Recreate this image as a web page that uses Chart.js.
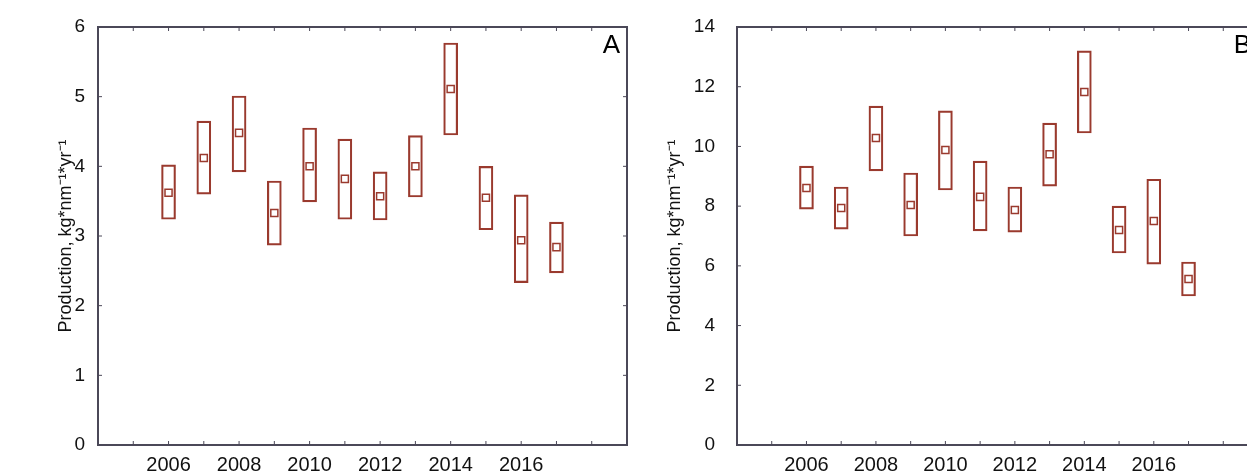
<!DOCTYPE html>
<html>
<head>
<meta charset="utf-8">
<script src="https://cdn.jsdelivr.net/npm/chart.js@4.4.0/dist/chart.umd.min.js"></script>
<style>
  html, body { margin: 0; padding: 0; background: #fff; overflow: hidden; }
  body { width: 1247px; height: 476px; position: relative; }
  .panel { position: absolute; top: 0; }
</style>
</head>
<body>
<div class="panel" style="left:0px"><canvas id="chart-a" width="640" height="476"></canvas></div>
<div class="panel" style="left:620px"><canvas id="chart-b" width="655" height="476"></canvas></div>
<script>
const years = [2006, 2007, 2008, 2009, 2010, 2011, 2012, 2013, 2014, 2015, 2016, 2017];
const labelYears = [2006, 2008, 2010, 2012, 2014, 2016];

// panel A
const lowA = [3.24, 3.60, 3.92, 2.87, 3.49, 3.24, 3.23, 3.56, 4.45, 3.09, 2.33, 2.47];
const highA = [4.02, 4.65, 5.01, 3.79, 4.55, 4.39, 3.92, 4.44, 5.77, 4.00, 3.59, 3.20];
const meanA = [3.62, 4.12, 4.48, 3.33, 4.00, 3.82, 3.57, 4.00, 5.11, 3.55, 2.94, 2.84];

// panel B
const lowB = [7.90, 7.23, 9.18, 7.00, 8.54, 7.17, 7.13, 8.67, 10.45, 6.43, 6.06, 4.99];
const highB = [9.34, 8.64, 11.35, 9.11, 11.19, 9.51, 8.64, 10.78, 13.20, 8.00, 8.90, 6.13];
const meanB = [8.61, 7.94, 10.28, 8.04, 9.88, 8.31, 7.87, 9.74, 11.82, 7.20, 7.50, 5.56];

const boxColor = "#9a3a2e";
const axisColor = "#4b4858";
const yTitle = "Production, kg*nm\u207B\u00B9*yr\u207B\u00B9";

// frame, inward ticks and the panel letter
const framePlugin = {
  id: "frame",
  afterDraw(chart, args, opts) {
    const ctx = chart.ctx;
    const a = chart.chartArea;
    const xs = chart.scales.x;
    const ys = chart.scales.y;
    ctx.save();
    ctx.strokeStyle = axisColor;
    ctx.lineWidth = 2;
    ctx.strokeRect(a.left, a.top, a.right - a.left, a.bottom - a.top);
    ctx.lineWidth = 1;
    ctx.beginPath();
    for (const t of xs.ticks) {
      const px = xs.getPixelForValue(t.value);
      ctx.moveTo(px, a.bottom);
      ctx.lineTo(px, a.bottom - 4);
      ctx.moveTo(px, a.top);
      ctx.lineTo(px, a.top + 4);
    }
    for (const t of ys.ticks) {
      const py = ys.getPixelForValue(t.value);
      ctx.moveTo(a.left, py);
      ctx.lineTo(a.left + 4, py);
      ctx.moveTo(a.right, py);
      ctx.lineTo(a.right - 4, py);
    }
    ctx.stroke();
    ctx.fillStyle = "#000";
    ctx.font = "26px 'Liberation Sans', Arial, sans-serif";
    ctx.textAlign = "right";
    ctx.textBaseline = "top";
    ctx.fillText(opts.letter, a.right - 7, a.top + 6);
    ctx.restore();
  },
};

function makeChart(id, low, high, mean, yMax, yStep, letter, axisWidth, tickPad, titlePad, padRight) {
  const boxes = years.map((y, i) => ({ x: y, y: [low[i], high[i]] }));
  const means = years.map((y, i) => ({ x: y, y: mean[i] }));
  new Chart(document.getElementById(id), {
    type: "bar",
    data: {
      datasets: [
        {
          label: "range",
          data: boxes,
          backgroundColor: "rgba(0,0,0,0)",
          borderColor: boxColor,
          borderWidth: 1.5,
          borderSkipped: false,
          barThickness: 14,
        },
        {
          type: "line",
          label: "mean",
          data: means,
          showLine: false,
          pointStyle: "rect",
          pointRadius: 5,
          pointBorderWidth: 1.5,
          pointBorderColor: boxColor,
          pointBackgroundColor: "rgba(0,0,0,0)",
        },
      ],
    },
    options: {
      responsive: false,
      animation: false,
      layout: { padding: { top: 27, right: padRight, left: 0, bottom: 0 } },
      plugins: {
        legend: { display: false },
        tooltip: { enabled: false },
        frame: { letter: letter },
      },
      scales: {
        x: {
          type: "linear",
          min: 2004,
          max: 2019,
          offset: false,
          grid: { display: false, drawTicks: false },
          border: { display: false },
          afterFit: (s) => { s.height = 31; },
          afterBuildTicks: (s) => {
            s.ticks = [];
            for (let v = 2004; v <= 2019; v++) s.ticks.push({ value: v });
          },
          ticks: {
            autoSkip: false,
            maxRotation: 0,
            padding: 8,
            color: "#111",
            font: { family: "'Liberation Sans', Arial, sans-serif", size: 20 },
            callback: (v) => (labelYears.includes(v) ? String(v) : ""),
          },
        },
        y: {
          min: 0,
          max: yMax,
          grid: { display: false, tickLength: 8 },
          border: { display: false },
          afterFit: (s) => { s.width = axisWidth; },
          ticks: {
            stepSize: yStep,
            padding: tickPad,
            color: "#111",
            font: { family: "'Liberation Sans', Arial, sans-serif", size: 19 },
          },
          title: {
            display: true,
            text: yTitle,
            color: "#111",
            padding: { top: titlePad, bottom: 0 },
            font: { family: "'Liberation Sans', Arial, sans-serif", size: 18 },
          },
        },
      },
    },
    plugins: [framePlugin],
  });
}

makeChart("chart-a", lowA, highA, meanA, 6, 1, "A", 98, 5, 55, 13);
makeChart("chart-b", lowB, highB, meanB, 14, 2, "B", 117, 14, 44, 17);
</script>
</body>
</html>
